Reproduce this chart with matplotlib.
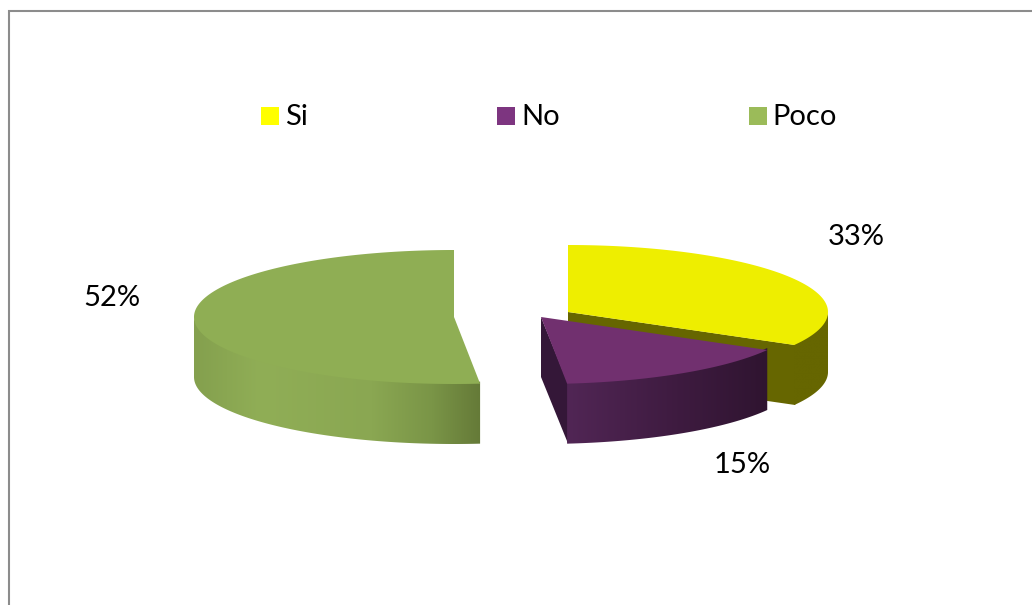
import numpy as np
import matplotlib
matplotlib.use("Agg")
import matplotlib.pyplot as plt
from matplotlib.colors import LinearSegmentedColormap
from matplotlib.patches import Polygon, Rectangle

categories = ["Si", "No", "Poco"]
values = [33.2, 15.2, 51.6]

top_colors = ["#EEEE00", "#71306F", "#8FAE54"]
legend_colors = ["#FFFF00", "#7D3580", "#9BBB59"]
inner_colors = ["#666600", "#341738", None]
side_colors = [[(0, "#666600"), (1, "#666600")],
               [(0, "#512655"), (0.55, "#3E1B40"), (1, "#2F1430")],
               [(0, "#84A04E"), (0.23, "#90AE56"), (0.62, "#8AA752"),
                (0.83, "#7A9547"), (1, "#657A38")]]

# slice centres, each one is pulled away from the middle
centers = [(568, 312), (541, 317), (454, 317)]
label_pos = [(856, 237), (742, 465), (112, 298)]
legend_x = [261, 497, 749]
legend_text_x = [285, 521, 772]

rx, ry = 260, 67
depth = 60


def ell(c, ang):
    # angle is clockwise from the top of the pie
    a = np.radians(ang)
    return np.column_stack((c[0] + rx * np.sin(a), c[1] - ry * np.cos(a)))


def gradient_side(ax, pts, colors):
    poly = Polygon(pts, closed=True, fc="none", ec="none")
    ax.add_patch(poly)
    x0, x1 = pts[:, 0].min(), pts[:, 0].max()
    y0, y1 = pts[:, 1].min(), pts[:, 1].max()
    cmap = LinearSegmentedColormap.from_list("side", colors)
    im = ax.imshow(np.linspace(0, 1, 256).reshape(1, -1), cmap=cmap, aspect="auto",
                   extent=(x0, x1, y1, y0), interpolation="bilinear", zorder=2)
    im.set_clip_path(poly)


fig = plt.figure(figsize=(10.32, 6.05), dpi=100)
ax = fig.add_axes([0, 0, 1, 1])

ends = np.cumsum(values) / np.sum(values) * 360
starts = np.concatenate(([0], ends[:-1]))

for i in range(len(values)):
    c = centers[i]
    # cut face goes under the wall of the same slice
    if inner_colors[i]:
        p = ell(c, np.array([ends[i]]))[0]
        face = [c, p + [1, 0], p + [1, depth], (c[0], c[1] + depth)]
        ax.add_patch(Polygon(face, closed=True, fc=inner_colors[i], ec="none", zorder=2))
    # outer wall, only the front half of the rim shows
    a0 = max(starts[i], 90)
    a1 = min(ends[i], 270)
    rim = ell(c, np.linspace(a0, a1, 120))
    # start the wall a bit under the top face so no seam shows
    wall = np.vstack((rim - [0, 2], rim[::-1] + [0, depth]))
    gradient_side(ax, wall, side_colors[i])
    # top
    arc = ell(c, np.linspace(starts[i], ends[i], 240))
    ax.add_patch(Polygon(np.vstack(([c], arc)), closed=True, fc=top_colors[i],
                         ec="none", zorder=2))
    ax.text(label_pos[i][0], label_pos[i][1], f"{values[i]:.0f}%", fontsize=21,
            family="Lato", color="black", ha="center", va="center", zorder=5)
    ax.add_patch(Rectangle((legend_x[i], 107), 18, 18, fc=legend_colors[i], ec="none"))
    ax.text(legend_text_x[i], 117, categories[i], fontsize=21, family="Lato",
            color="black", ha="left", va="center", zorder=5)

# chart frame, cut off on the right and at the bottom
ax.plot([9, 9, 1032], [605, 11, 11], color="#8C8C8C", lw=1.5, solid_joinstyle="miter")

ax.set_xlim(0, 1032)
ax.set_ylim(605, 0)
ax.axis("off")
fig.savefig("out.png", dpi=100, facecolor="white")
